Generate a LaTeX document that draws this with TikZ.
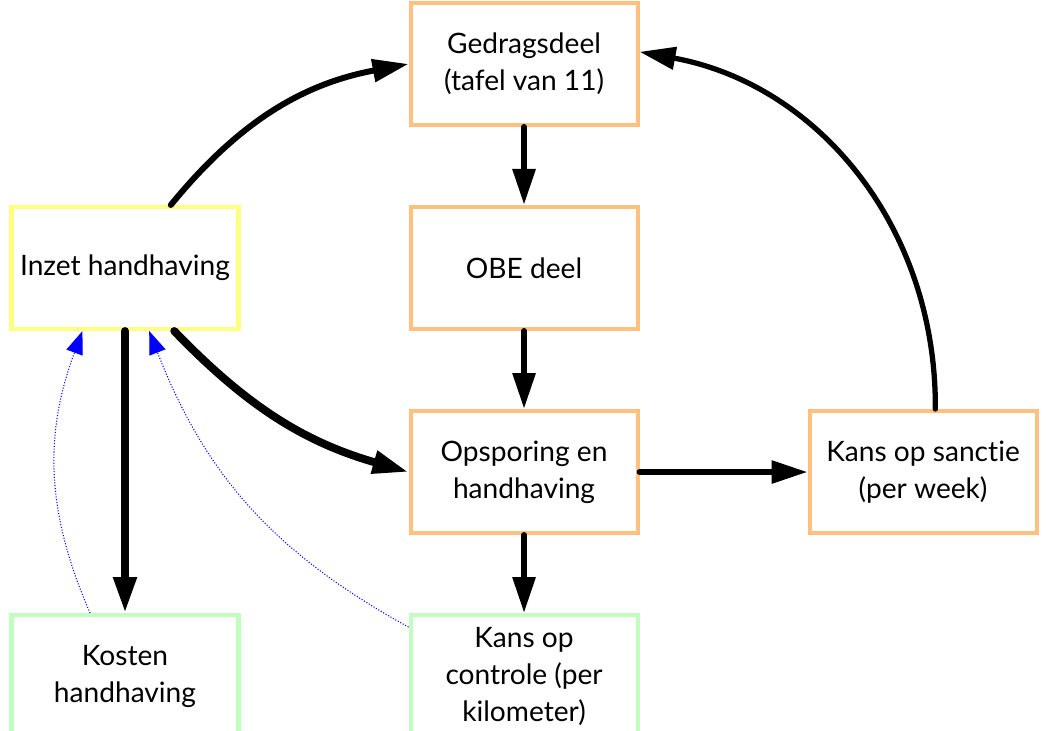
\documentclass[tikz,border=0pt]{standalone}
\usepackage{fontspec}
\setmainfont{Lato}[Ligatures=NoCommon]
\usetikzlibrary{positioning,arrows.meta}
\definecolor{boxOrange}{HTML}{FFC080}
\definecolor{boxYellow}{HTML}{FFFF80}
\definecolor{boxGreen}{HTML}{C0FFC0}

\begin{document}
\begin{tikzpicture}[
                node distance=1.56cm and 3.36cm,
                basebox/.style={draw, line width=2.3pt, minimum width=4.54cm, minimum height=2.44cm,
                                align=center, inner sep=1pt, font=\fontsize{16}{21}\selectfont},
                orbox/.style={basebox, draw=boxOrange},
                yelbox/.style={basebox, draw=boxYellow},
                grnbox/.style={basebox, draw=boxGreen},
                flow/.style={-{Triangle[length=0.72cm,width=0.44cm]}, line width=3.4pt, line cap=round},
                heavy/.style={flow, line width=4.5pt},
                hint/.style={-{Triangle[length=0.46cm,width=0.34cm]}, blue, densely dotted, line width=0.6pt}
            ]
                \useasboundingbox (0,0) rectangle (20.92,14.6);
                \node[yelbox] (inzet) at (2.5,9.24) {Inzet handhaving};
                \node[orbox, right=of inzet] (obe) {OBE deel};
                \node[orbox, above=of obe] (ged) {Gedragsdeel\\(tafel van 11)};
                \node[orbox, below=of obe] (ops) {Opsporing en\\handhaving};
                \node[orbox, right=of ops] (sanc) {Kans op sanctie\\(per week)};
                \node[grnbox, below=of ops] (ctrl) {Kans op\\controle (per\\kilometer)};
                \node[grnbox] (kost) at (inzet |- ctrl) {Kosten\\handhaving};
                % main flow
                \draw[flow] (inzet.54) to[bend left=20] (ged.west);
                \draw[flow] (ged) -- (obe);
                \draw[flow] (obe) -- (ops);
                \draw[heavy] (inzet.-52) to[bend right=15] (ops.west);
                \draw[heavy] (inzet) -- (kost);
                \draw[flow] (ops) -- (sanc);
                \draw[flow] (ops) -- (ctrl);
                \draw[flow, line width=3pt] (sanc.79) to[bend right=40] (ged.6);
                % feedback
                \draw[hint] (kost.119) to[bend left=22] (inzet.-124);
                \draw[hint] (ctrl.157) to[bend left=20] (inzet.-69);
            \end{tikzpicture}
\end{document}
